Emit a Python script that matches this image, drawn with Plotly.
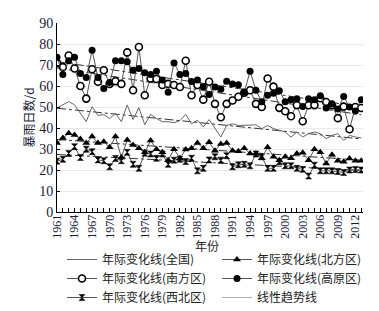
import numpy as np
import plotly.graph_objects as go

years = list(range(1961, 2014))

quanguo = [49.5, 51, 52.6, 51, 47, 43, 50.2, 46, 46.4, 44.5, 47, 43, 51, 44, 49.7, 41.6, 46.5, 44.5, 43, 43,
           42.5, 43.5, 46.5, 42, 43.7, 40.5, 44, 39.7, 35.7, 41.2, 42, 41.2, 41.2, 41.5, 41.5, 39.7, 41.2, 39.7,
           38.9, 38.1, 35.7, 38.1, 35.7, 37.3, 38.1, 37.3, 34.9, 36.5, 37.3, 34.1, 36.5, 35.7, 35.3]
beifang = [32.8, 35.2, 37.5, 36.7, 34.8, 32.8, 35.9, 32.8, 33.5, 30.8, 35.9, 26, 34.3, 31.9, 30.4, 28.4, 34,
           29.9, 28.5, 24.7, 29.9, 25.6, 29.8, 30.4, 32.8, 30.4, 33.2, 29.2, 32.4, 32.8, 29.2, 28.9, 30.3, 27.9,
           27.9, 25.6, 30.8, 26.3, 24.7, 26.3, 25.6, 27.9, 28.2, 24.7, 29.9, 28.4, 23.1, 27.3, 24.4, 23.9, 25.5,
           24.4, 24.4]
nanfang = [71, 69, 74.5, 68.3, 60, 54, 68, 62, 67.5, 61, 62.3, 61, 76, 58, 78.6, 55.6, 63.6, 63.3, 60.5, 61,
           60.5, 59.5, 72, 55.6, 60.5, 53.5, 62, 51.5, 45.1, 51.5, 53.1, 54.9, 56.8, 58, 51.5, 50, 63.6, 59.7,
           49.6, 48, 45.6, 50.9, 43.2, 50.8, 50.9, 54.2, 52.4, 50.9, 44.7, 50.2, 39.4, 50, 49.5]
gaoyuan = [73.7, 65.5, 72, 73.7, 66, 64, 77, 64, 58.8, 61.7, 72, 72, 71.5, 67.5, 68.3, 66.3, 65.5, 67, 62.8, 57,
           71, 65.5, 66, 62.2, 62.8, 59.7, 56, 59.5, 58.5, 62.3, 61, 60.6, 57, 67, 58, 52.5, 55.6, 56.6, 57.7,
           52.5, 53.4, 53.9, 50.2, 53.9, 53.4, 55.3, 49.5, 51.5, 49, 55, 50, 48.1, 53.5]
xibei = [24.2, 25.1, 27.9, 31.1, 26, 29.9, 28.7, 24.8, 24.4, 21.5, 25.5, 24.4, 28.4, 22.7, 20.8, 28, 27.6, 25.6,
         27.6, 22.7, 24.7, 25.1, 24, 25.6, 19.6, 20.8, 24.8, 26.3, 24.7, 26.8, 21.5, 22.5, 22.7, 22, 27.6, 26.3,
         20.8, 20.8, 23.9, 22, 22, 20.8, 20.3, 17.1, 22.3, 19.6, 19.6, 19.6, 19.3, 18.8, 20, 20.2, 20]

tick_years = list(range(1961, 2013, 3))
y_ticks = list(range(0, 91, 10))

names = {
    'qg': '年际变化线(全国)',
    'bf': '年际变化线(北方区)',
    'nf': '年际变化线(南方区)',
    'gy': '年际变化线(高原区)',
    'xb': '年际变化线(西北区)',
    'tr': '线性趋势线',
}

fig = go.Figure()
LC = '#555555'

trends = []
for ser in [quanguo, beifang, nanfang, gaoyuan, xibei]:
    k, b = np.polyfit(years, ser, 1)
    trends.append([k * yy + b for yy in years])

for tr in trends:
    fig.add_trace(go.Scatter(x=years, y=tr, mode='lines',
                             line=dict(color='#333333', width=1, dash='dashdot'),
                             showlegend=False, hoverinfo='skip'))

fig.add_trace(go.Scatter(x=years, y=quanguo, mode='lines', name=names['qg'],
                         line=dict(color='#666666', width=1), legend='legend'))
fig.add_trace(go.Scatter(x=years, y=nanfang, mode='lines+markers', name=names['nf'],
                         line=dict(color=LC, width=1),
                         marker=dict(symbol='circle', size=7, color='white',
                                     line=dict(color='black', width=1.6)), legend='legend'))
fig.add_trace(go.Scatter(x=years, y=xibei, mode='lines+markers', name=names['xb'],
                         line=dict(color=LC, width=1),
                         marker=dict(symbol='hourglass', size=6, color='black',
                                     line=dict(color='black', width=0.5)), legend='legend'))
fig.add_trace(go.Scatter(x=years, y=beifang, mode='lines+markers', name=names['bf'],
                         line=dict(color=LC, width=1),
                         marker=dict(symbol='triangle-up', size=7, color='black'), legend='legend2'))
fig.add_trace(go.Scatter(x=years, y=gaoyuan, mode='lines+markers', name=names['gy'],
                         line=dict(color=LC, width=1),
                         marker=dict(symbol='circle', size=7, color='black'), legend='legend2'))
# legend-only entry for the trend lines (no drawn points)
fig.add_trace(go.Scatter(x=[None], y=[None], mode='lines', name=names['tr'],
                         line=dict(color='#b0b0b0', width=1), legend='legend2', hoverinfo='skip'))

serif = 'Liberation Serif'
leg_font = dict(family='Noto Sans CJK SC', size=12, color='#222')
leg_y = -(237 - 204) / 189
fig.update_layout(
    width=379, height=311,
    margin=dict(l=49, r=24, t=15, b=107, autoexpand=False),
    plot_bgcolor='white', paper_bgcolor='white',
    xaxis=dict(type='linear', range=[1961, 2013.3], tickmode='array', tickvals=tick_years,
               ticktext=[str(t) for t in tick_years], tickangle=-90, ticklabelstandoff=-3,
               ticks='inside', ticklen=4, tickcolor='black',
               minor=dict(tickmode='linear', tick0=1961, dtick=1, ticks='inside', ticklen=4, tickcolor='black'),
               showline=True, linecolor='black', linewidth=1, showgrid=False, zeroline=False,
               tickfont=dict(family=serif, size=12, color='#1a1a3a')),
    yaxis=dict(type='linear', range=[0, 90], tickmode='array', tickvals=y_ticks,
               ticks='inside', ticklen=3, tickcolor='black',
               showline=True, linecolor='black', linewidth=1,
               showgrid=True, gridcolor='#e8e8e8', gridwidth=1, zeroline=False,
               tickfont=dict(family=serif, size=14, color='#1a1a3a'),
               title=dict(text='暴雨日数/d', font=dict(family='Noto Sans CJK SC', size=12, color='#1a1a3a'), standoff=2)),
    legend=dict(x=(54 - 49) / 306, y=leg_y,
                xanchor='left', yanchor='top', orientation='v', font=leg_font,
                bgcolor='rgba(0,0,0,0)', tracegroupgap=0, itemclick=False, itemdoubleclick=False),
    legend2=dict(x=(209 - 49) / 306, y=leg_y,
                 xanchor='left', yanchor='top', orientation='v', font=leg_font,
                 bgcolor='rgba(0,0,0,0)', tracegroupgap=0, itemclick=False, itemdoubleclick=False),
    annotations=[dict(text='年份', xref='paper', yref='paper', x=0.49, y=-(237 - 204) / 189,
                      xanchor='center', yanchor='middle', showarrow=False,
                      font=dict(family='Noto Sans CJK SC', size=12, color='#222'))],
    showlegend=True,
)

fig.write_html('out.html')
